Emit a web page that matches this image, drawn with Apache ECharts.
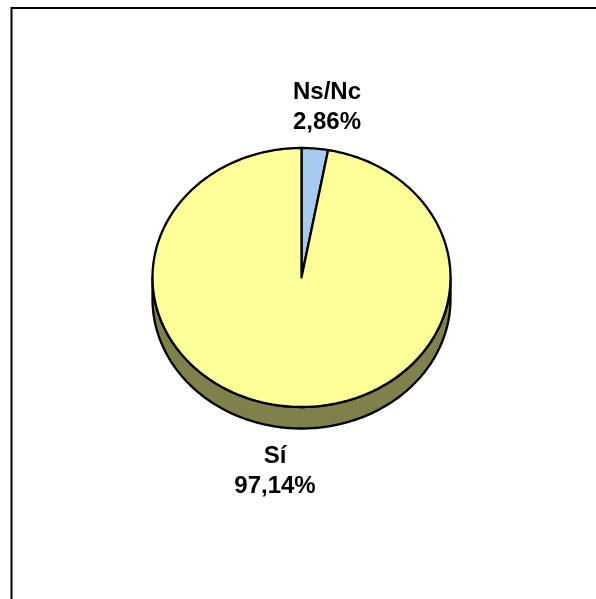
<!DOCTYPE html>
<html><head><meta charset="utf-8">
<script src="https://cdn.jsdelivr.net/npm/echarts@6/dist/echarts.min.js"></script>
<style>html,body{margin:0;padding:0;background:#fff}#c{width:596px;height:599px}</style>
</head><body><div id="c"></div>
<script>
// ---- data ----
const categories = ['Ns/Nc', 'Sí'];
const values = [2.86, 97.14];
const valueLabels = ['2,86%', '97,14%'];

// ---- style / layout ----
const topColors = ['#A6CAF0', '#FFFF99'];
const sideColors = ['#53657A', '#80804C'];
const CX = 301.5, CY = 277.5, RX = 149, RY = 129.5, DEPTH = 21.5;
const labelPos = [[327, 107.5], [275, 471]];

function ellPt(a, dy) {
  const r = a * Math.PI / 180;
  return [CX + RX * Math.sin(r), CY - RY * Math.cos(r) + (dy || 0)];
}
function arcPts(a0, a1, dy) {
  const pts = [];
  const n = Math.max(2, Math.ceil(Math.abs(a1 - a0)));
  for (let k = 0; k <= n; k++) pts.push(ellPt(a0 + (a1 - a0) * k / n, dy));
  return pts;
}

const chart = echarts.init(document.getElementById('c'), null, {renderer: 'canvas'});
const total = values.reduce((s, v) => s + v, 0);

chart.setOption({
  backgroundColor: '#fff',
  animation: false,
  graphic: [{
    type: 'rect', shape: {x: 11.5, y: 8, width: 700, height: 700},
    style: {fill: 'none', stroke: '#000', lineWidth: 2}, silent: true
  }],
  series: [{
    type: 'custom',
    coordinateSystem: 'none',
    data: values.map((v, i) => ({name: categories[i], value: v})),
    renderItem: function (params, api) {
      const i = params.dataIndex;
      let start = 0;
      for (let j = 0; j < i; j++) start += values[j] / total * 360;
      const end = start + api.value(0) / total * 360;
      const children = [];
      // side (front half only: 90..270)
      const s0 = Math.max(start, 90), s1 = Math.min(end, 270);
      if (s1 > s0) {
        const pts = arcPts(s0, s1, 0).concat(arcPts(s1, s0, DEPTH));
        children.push({
          type: 'polygon', shape: {points: pts},
          style: {fill: sideColors[i], stroke: '#000', lineWidth: 2.3, lineJoin: 'round'}
        });
      }
      const topPts = [[CX, CY]].concat(arcPts(start, end, 0));
      children.push({
        type: 'polygon', shape: {points: topPts},
        style: {fill: topColors[i], stroke: '#000', lineWidth: 2.3, lineJoin: 'round'}
      });
      children.push({
        type: 'text',
        x: labelPos[i][0], y: labelPos[i][1],
        style: {
          text: categories[i] + '\n' + valueLabels[i],
          fill: '#000', font: 'bold 24px "Liberation Sans", Arial, sans-serif',
          align: 'center', verticalAlign: 'middle', lineHeight: 30
        }
      });
      return {type: 'group', children: children};
    }
  }]
});
</script>
</body></html>
